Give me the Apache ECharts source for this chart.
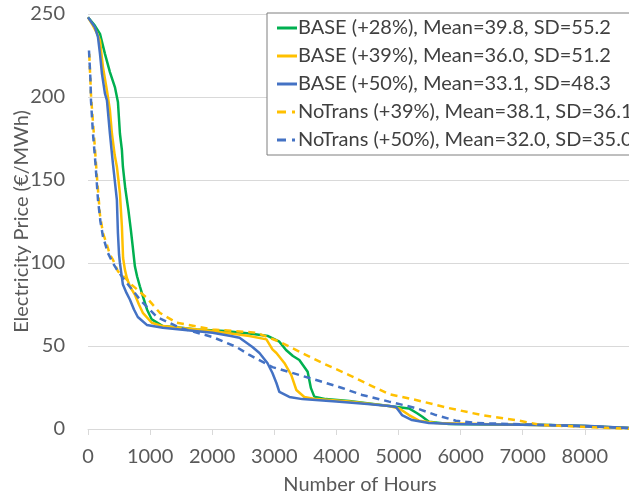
<!DOCTYPE html>
<html>
<head>
<meta charset="utf-8">
<script src="https://cdn.jsdelivr.net/npm/echarts@6/dist/echarts.min.js"></script>
<style>html,body{margin:0;padding:0;background:#fff;}#c{width:629px;height:497px;}</style>
</head>
<body>
<div id="c"></div>
<script>
const seriesNames = [
  'BASE (+28%), Mean=39.8, SD=55.2',
  'BASE (+39%), Mean=36.0, SD=51.2',
  'BASE (+50%), Mean=33.1, SD=48.3',
  'NoTrans (+39%), Mean=38.1, SD=36.1',
  'NoTrans (+50%), Mean=32.0, SD=35.0'
];
const xTicks = [0,1000,2000,3000,4000,5000,6000,7000,8000];
const yTicks = [0,50,100,150,200,250];

const base28 = [[0,248],[110,243],[193,238],[273,226],[353,215],[433,206],[482,197],[514,178],[546,168],[562,158],[600,145],[650,132],[690,120],[720,110],[755,98],[790,92],[835,86],[883,80],[950,72],[1027,66],[1204,62],[1500,61],[1750,60],[2200,59],[2600,57.5],[2900,56],[3082,52.6],[3189,47.6],[3300,44],[3403,41.6],[3537,34.5],[3590,24.6],[3644,19.5],[3831,18],[4205,16.9],[4848,13.9],[5169,12.4],[5300,9.5],[5384,7.4],[5490,4.4],[5811,3],[6500,2.7],[7416,2.4],[8000,1.8],[8760,0.5]];
const base39 = [[0,248],[80,243],[150,238],[193,234],[241,218],[305,204],[353,192],[385,178],[430,165],[465,158],[490,150],[514,142],[546,122],[565,103],[594,96],[626,91],[674,86],[754,81],[820,75],[883,70],[1027,64],[1200,62],[1477,61],[2000,59],[2600,56],[2873,54],[2970,48],[3034,45.8],[3162,39.8],[3274,32.5],[3355,23.5],[3483,19.3],[3676,18],[4205,16.5],[4848,13.9],[5008,12.4],[5169,8.4],[5329,5],[5602,3.6],[6500,2.8],[7500,2.2],[8760,0.5]];
const base50 = [[0,248],[112,242],[161,236],[193,226],[225,214],[273,202],[305,198],[353,178],[401,160],[465,138],[482,118],[500,105],[514,100],[562,87],[620,82],[674,78],[740,72],[802,67.5],[947,62.7],[1204,61],[1600,59.5],[2006,58],[2300,56],[2440,55],[2648,49.4],[2761,45.8],[2889,39.8],[2970,33.7],[3034,27.7],[3082,22.3],[3242,19.3],[3451,18],[3997,16.5],[4500,15],[4848,13.9],[4960,13.3],[5056,8.4],[5217,5.4],[5490,3.6],[5923,3],[7000,2.6],[8000,2],[8760,0.5]];
const noTrans39 = [[20,226],[50,200],[100,175],[144,152],[193,129],[241,118],[305,111],[353,105],[401,102],[482,95],[626,90],[700,87],[883,81],[947,79],[1156,70],[1429,64],[2006,60],[2713,58],[3082,52.6],[3403,46.6],[3772,39.8],[4205,32.5],[4639,24.7],[4848,21],[5281,17.5],[5811,12.6],[6340,8.4],[6886,5.4],[7303,2.4],[7945,1.4],[8760,0]];
const noTrans50 = [[16,228],[40,210],[48,198],[80,178],[120,160],[161,138],[200,125],[241,116],[321,106],[401,100],[465,96],[562,91],[626,88],[835,78],[1108,67.5],[1477,61],[2006,55.4],[2392,49.4],[2600,44.6],[2970,37.3],[3242,34.3],[3676,29.5],[4093,24.7],[4414,20.5],[4848,16.5],[5281,12.6],[5602,8.4],[5923,5],[6244,3.6],[7416,2.4],[8760,0.5]];

const GREEN = '#00B050', YELLOW = '#FFC000', BLUE = '#4472C4';
const FONT = 'Lato';
const SOLID_ICON = 'path://M0,0H20V3H0Z';
const DASH_ICON = 'path://M0,0H9V3H0Z M15,0H18V3H15Z M19.9,0H20V0.1H19.9Z';
const chart = echarts.init(document.getElementById('c'), null, {renderer: 'canvas'});

function mk(name, data, color, dashed) {
  return {
    name: name, type: 'line', data: data, symbol: 'none', showSymbol: false,
    lineStyle: {color: color, width: 2.5, type: dashed ? [7, 5] : 'solid'},
    itemStyle: {color: color}, animation: false, z: dashed ? 3 : 2
  };
}

chart.setOption({
  animation: false,
  backgroundColor: '#fff',
  grid: {left: 88, right: -3, top: 14, bottom: 68, containLabel: false, outerBoundsMode: 'none'},
  legend: {
    orient: 'vertical', left: 267, top: 13,
    padding: [5, 40, 5, 10], itemGap: 8, itemWidth: 20, itemHeight: 3,
    backgroundColor: '#fff', borderColor: '#7f7f7f', borderWidth: 1,
    textStyle: {fontFamily: FONT, fontSize: 20, color: '#404040', padding: [0,0,0,-4]},
    data: [
      {name: seriesNames[0], icon: SOLID_ICON},
      {name: seriesNames[1], icon: SOLID_ICON},
      {name: seriesNames[2], icon: SOLID_ICON},
      {name: seriesNames[3], icon: DASH_ICON},
      {name: seriesNames[4], icon: DASH_ICON}
    ]
  },
  xAxis: {
    type: 'value', min: 0, max: 8760, interval: 1000,
    name: 'Number of Hours', nameLocation: 'middle', nameGap: 46,
    nameTextStyle: {fontFamily: FONT, fontSize: 20, color: '#595959'},
    axisLine: {show: true, lineStyle: {color: '#d9d9d9', width: 1}},
    axisTick: {show: true, length: 6, lineStyle: {color: '#d9d9d9'}},
    axisLabel: {fontFamily: FONT, fontSize: 20, color: '#595959', margin: 18, showMaxLabel: false,
      formatter: v => xTicks.indexOf(v) >= 0 ? String(v) : ''},
    splitLine: {show: false}
  },
  yAxis: {
    type: 'value', min: 0, max: 250, interval: 50,
    name: 'Electricity Price (€/MWh)', nameLocation: 'middle', nameGap: 56, nameMoveOverlap: false,
    nameTextStyle: {fontFamily: FONT, fontSize: 20, color: '#595959'},
    axisLine: {show: false}, axisTick: {show: false},
    axisLabel: {fontFamily: FONT, fontSize: 20, color: '#595959', margin: 23,
      formatter: v => yTicks.indexOf(v) >= 0 ? String(v) : ''},
    splitLine: {show: true, lineStyle: {color: '#d9d9d9', width: 1}}
  },
  series: [
    mk(seriesNames[0], base28, GREEN, false),
    mk(seriesNames[1], base39, YELLOW, false),
    mk(seriesNames[2], base50, BLUE, false),
    mk(seriesNames[3], noTrans39, YELLOW, true),
    mk(seriesNames[4], noTrans50, BLUE, true)
  ]
});
</script>
</body>
</html>
